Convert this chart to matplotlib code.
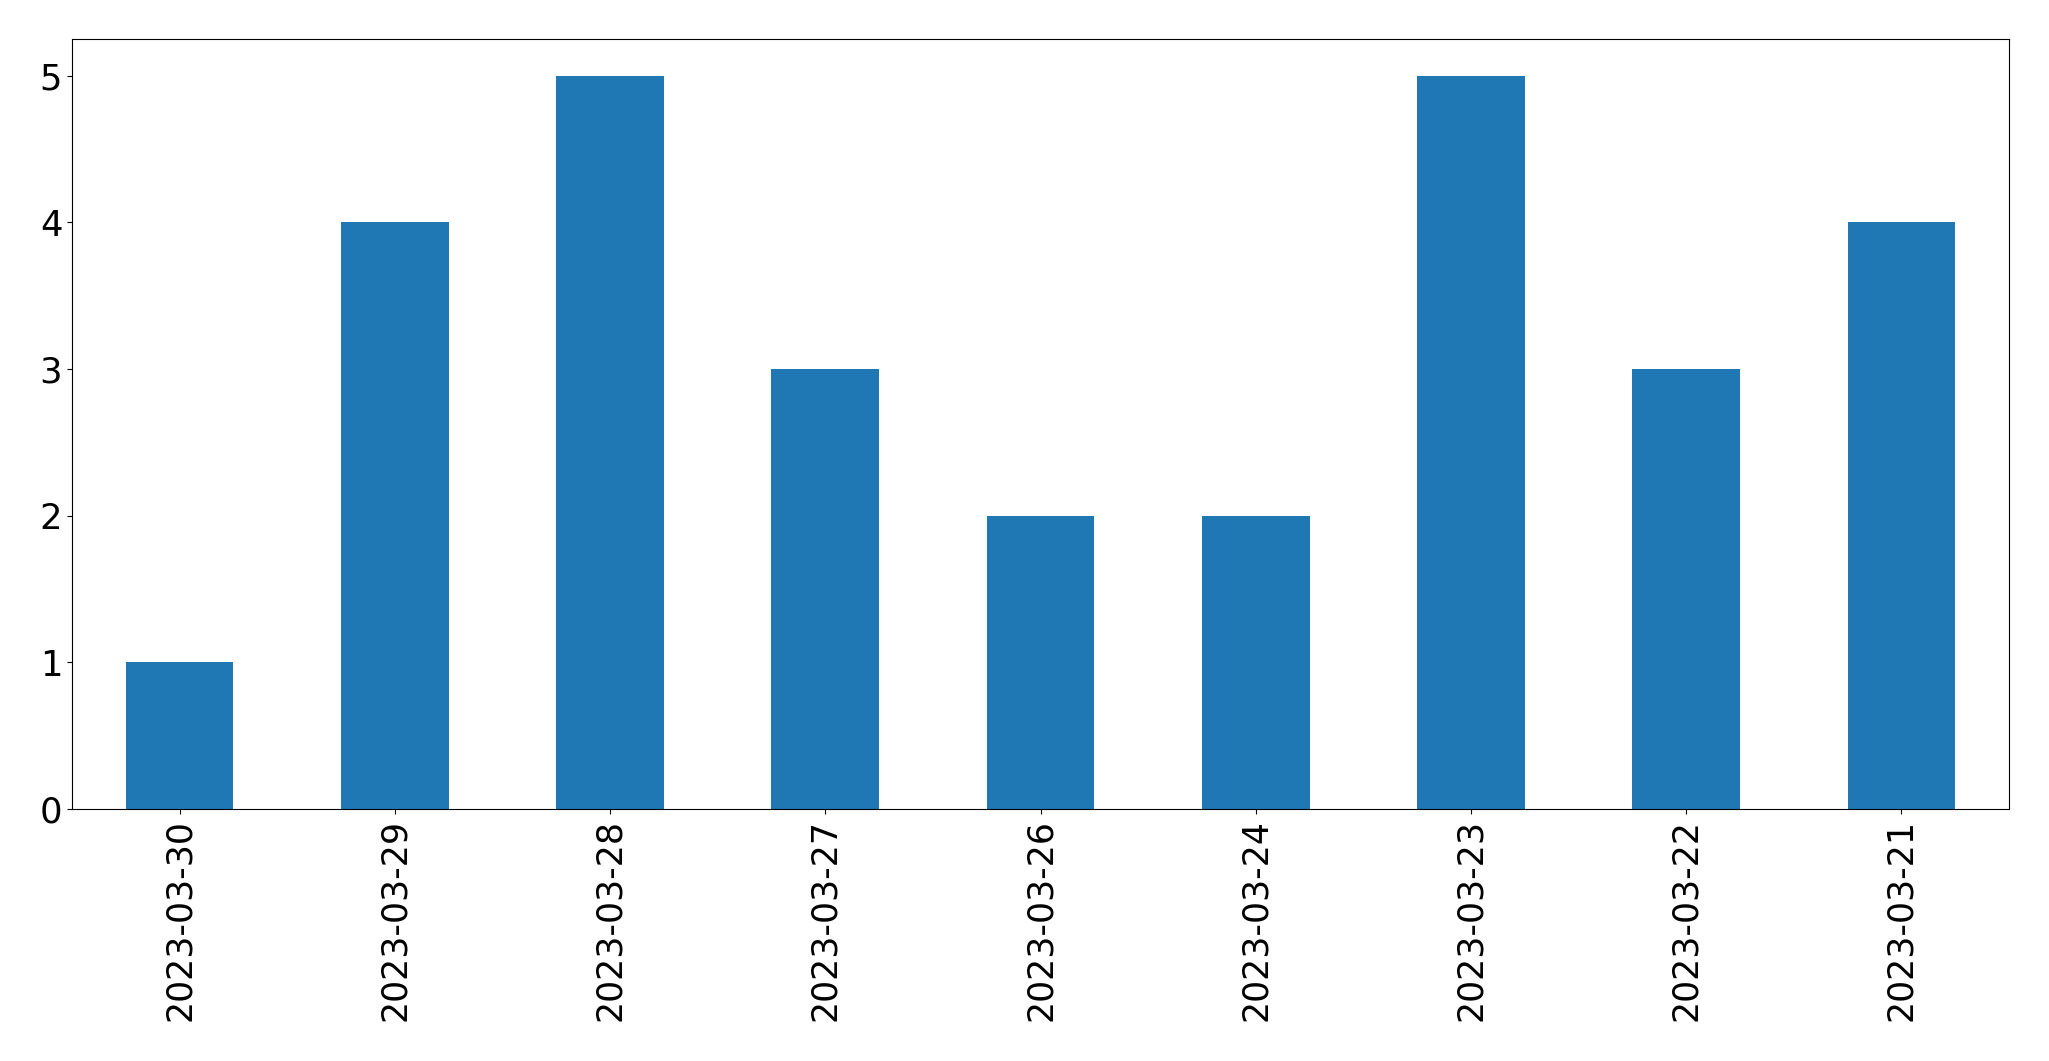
import matplotlib
matplotlib.use("Agg")
import matplotlib.pyplot as plt

dates = ["2023-03-30", "2023-03-29", "2023-03-28", "2023-03-27", "2023-03-26",
         "2023-03-24", "2023-03-23", "2023-03-22", "2023-03-21"]
counts = [1, 4, 5, 3, 2, 2, 5, 3, 4]

fig = plt.figure(figsize=(20.49, 10.61), dpi=100)
ax = fig.add_axes([72/2049, 1-809/1061, (2009-72)/2049, (809-39)/1061])
x = list(range(len(dates)))
ax.bar(x, counts, width=0.5, color="#1f77b4")
ax.set_xlim(-0.5, len(dates) - 0.5)
ax.set_ylim(0, 5.25)
ax.set_xticks(x)
ax.set_xticklabels(dates, rotation=90, fontsize=25)
ax.set_yticks(range(6))
ax.tick_params(axis="y", labelsize=25.5)
fig.savefig("out.png", dpi=100)
